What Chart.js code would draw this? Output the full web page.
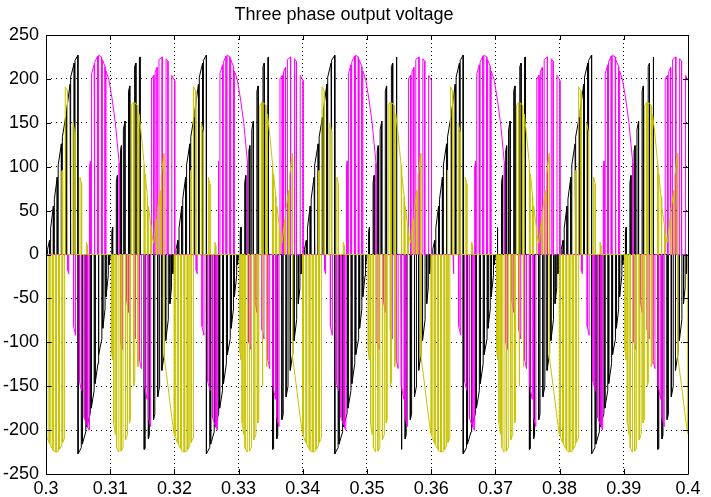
<!DOCTYPE html>
<html>
<head>
<meta charset="utf-8">
<title>Three phase output voltage</title>
<script src="https://cdn.jsdelivr.net/npm/chart.js@4/dist/chart.umd.min.js"></script>
<style>
  html, body { margin: 0; padding: 0; background: #fff; }
  #wrap { width: 711px; height: 497px; }
</style>
</head>
<body>
<div id="wrap"><canvas id="c" width="711" height="497"></canvas></div>
<script>
// Axis ticks
const xTickValues = [0.30, 0.31, 0.32, 0.33, 0.34, 0.35, 0.36, 0.37, 0.38, 0.39, 0.40];
const xTickLabels = ['0.3', '0.31', '0.32', '0.33', '0.34', '0.35', '0.36', '0.37', '0.38', '0.39', '0.4'];
const yTickValues = [-250, -200, -150, -100, -50, 0, 50, 100, 150, 200, 250];

// Start time (s) of each 20 ms fundamental period shown
const cycleStarts = [0.28, 0.30, 0.32, 0.34, 0.36, 0.38];

// PWM pulses within one period, in ms from the period start.
// Each pulse: [t0, v0, t1, v1, ...] = path of its top; edges fall back to 0 V.
const phaseA = [ // black
  [0.25, 6, 0.55, 16], [0.72, 30, 1.15, 55], [1.3, 63, 1.75, 88], [1.9, 102, 2.4, 126],
  [2.55, 134, 3.05, 156], [3.2, 164, 3.75, 194], [3.88, 202, 4.4, 218], [4.52, 221, 4.97, 227],
  [5.0, -227, 5.5, -220], [5.65, -216, 6.2, -202], [6.35, -196, 6.9, -181], [7.05, -175, 7.5, -155],
  [7.65, -147, 8.1, -124], [8.25, -114, 8.7, -96], [8.85, -84, 9.2, -62], [9.35, -48, 9.7, -24],
  [9.82, -12, 9.98, -3],
  [10.25, 26, 10.38, 31], [10.95, 82, 11.12, 90], [11.6, 118, 11.75, 124], [12.05, 142, 12.3, 152],
  [12.85, 186, 13.05, 192], [13.8, 214, 14.0, 218], [14.55, 224, 14.65, 225],
  [15.3, -222, 15.45, -221], [15.95, -210, 16.1, -206], [16.75, -188, 16.95, -182], [17.4, -162, 17.7, -150],
  [18.05, -132, 18.45, -112], [18.65, -98, 19.05, -74], [19.3, -56, 19.55, -38], [19.75, -22, 19.88, -14]
];
const phaseB = [ // magenta
  [3.4, -18, 3.55, -22], [4.3, -82, 4.6, -92], [5.2, -145, 5.55, -155], [5.95, -186, 6.35, -194],
  [6.5, -197, 6.7, -200],
  [6.8, 100, 6.92, 106], [7.1, 206, 7.5, 216], [7.62, 219, 8.05, 226], [8.2, 227, 8.65, 225],
  [8.78, 222, 9.2, 214], [9.35, 209, 9.8, 199, 10.3, 177, 10.8, 150, 11.4, 104],
  [11.6, -100, 11.9, -108], [12.55, -52, 12.85, -66], [13.65, -86, 13.95, -96], [14.55, -120, 14.85, -130],
  [15.35, -150, 15.75, -165], [15.95, -186, 16.3, -196],
  [16.45, 200, 16.8, 204], [17.0, 208, 17.3, 213], [17.6, 222, 18.1, 225], [18.7, 223, 19.0, 220],
  [19.6, 204, 20.05, 198]
];
const phaseC = [ // yellow
  [0.1, -207, 0.45, -214], [0.6, -216, 0.95, -221], [1.1, -223, 1.45, -225], [1.6, -225, 1.95, -224],
  [2.1, -222, 2.4, -218], [2.48, 95, 2.56, 96], [2.62, -214, 2.9, -209],
  [3.0, 191, 3.35, 186], [4.2, 150, 4.5, 140], [5.3, 88, 5.55, 80], [6.3, 14, 6.45, 10],
  [10.2, -110, 10.35, -120], [10.55, -192, 10.8, -205], [11.0, -220, 11.35, -225], [11.7, -224, 12.0, -220],
  [12.4, -211, 12.7, -205], [13.0, -192, 13.15, -188],
  [13.3, 170, 13.6, 173], [13.68, -150, 13.78, -146], [13.85, 173, 14.25, 170], [14.32, -128, 14.42, -124],
  [14.5, 160, 14.8, 140, 15.3, 102], [15.45, 92, 15.8, 66], [15.95, 55, 16.35, 32],
  [16.45, 24, 16.75, 13, 17.2, 40], [17.35, 50, 17.8, 73], [17.95, 90, 18.38, 115],
  [18.42, -117, 19.0, -150, 19.6, -186, 19.95, -204]
];

// Expand the pulse lists into a polyline over every period
function trace(pulses) {
  const pts = [];
  for (const c of cycleStarts) {
    for (const p of pulses) {
      pts.push({ x: c + p[0] / 1000, y: 0 });
      for (let i = 0; i < p.length; i += 2) pts.push({ x: c + p[i] / 1000, y: p[i + 1] });
      pts.push({ x: c + p[p.length - 2] / 1000, y: 0 });
    }
  }
  return pts;
}

const FONT_NARROW = "'Liberation Sans Narrow', 'Arial Narrow', 'Liberation Sans', sans-serif";

function lineSet(label, color, pulses) {
  return {
    label, data: trace(pulses), borderColor: color, backgroundColor: color,
    borderWidth: 1, pointRadius: 0, showLine: true, fill: false, tension: 0, clip: 0
  };
}

// Solid box with inward tick marks on all four sides
const framePlugin = {
  id: 'frame',
  afterDraw(chart) {
    const { ctx, chartArea: a, scales } = chart;
    ctx.save();
    ctx.strokeStyle = '#000';
    ctx.lineWidth = 1;
    ctx.beginPath();
    ctx.rect(Math.round(a.left) + 0.5, Math.round(a.top) + 0.5,
             Math.round(a.right - a.left), Math.round(a.bottom - a.top));
    const L = 5;
    for (const v of xTickValues) {
      const x = Math.round(scales.x.getPixelForValue(v)) + 0.5;
      ctx.moveTo(x, a.bottom); ctx.lineTo(x, a.bottom - L);
      ctx.moveTo(x, a.top); ctx.lineTo(x, a.top + L);
    }
    for (const v of yTickValues) {
      const y = Math.round(scales.y.getPixelForValue(v)) + 0.5;
      ctx.moveTo(a.left, y); ctx.lineTo(a.left + L, y);
      ctx.moveTo(a.right, y); ctx.lineTo(a.right - L, y);
    }
    ctx.stroke();
    ctx.restore();
  }
};

new Chart(document.getElementById('c'), {
  type: 'scatter',
  data: {
    datasets: [
      lineSet('Phase C', '#c8c400', phaseC),
      lineSet('Phase B', '#ff00ff', phaseB),
      lineSet('Phase A', '#000000', phaseA)
    ]
  },
  options: {
    responsive: false,
    animation: false,
    devicePixelRatio: 1,
    layout: { padding: { left: 0, right: 23, top: 0, bottom: 0 } },
    plugins: {
      legend: { display: false },
      tooltip: { enabled: false },
      title: {
        display: true,
        text: 'Three phase output voltage',
        color: '#000',
        font: { family: "'Liberation Sans', Arial, sans-serif", size: 18, weight: 'normal', lineHeight: 1.2 },
        padding: { top: 4, bottom: 9.4 }
      }
    },
    scales: {
      x: {
        type: 'linear', min: 0.3, max: 0.4,
        afterBuildTicks: s => { s.ticks = xTickValues.map(v => ({ value: v })); },
        afterFit: s => { s.height = 23; },
        ticks: {
          autoSkip: false, maxRotation: 0, padding: 4, color: '#000',
          font: { family: FONT_NARROW, size: 18 },
          callback: (v, i) => xTickLabels[i]
        },
        grid: { color: '#000', lineWidth: 1, drawTicks: false },
        border: { display: false, dash: [1, 3] }
      },
      y: {
        min: -250, max: 250,
        afterBuildTicks: s => { s.ticks = yTickValues.map(v => ({ value: v })); },
        afterFit: s => { s.width = 46; },
        ticks: {
          autoSkip: false, padding: 7, color: '#000',
          font: { family: FONT_NARROW, size: 18 },
          callback: v => String(v)
        },
        grid: { color: '#000', lineWidth: 1, drawTicks: false },
        border: { display: false, dash: [1, 4] }
      }
    }
  },
  plugins: [framePlugin]
});
</script>
</body>
</html>
